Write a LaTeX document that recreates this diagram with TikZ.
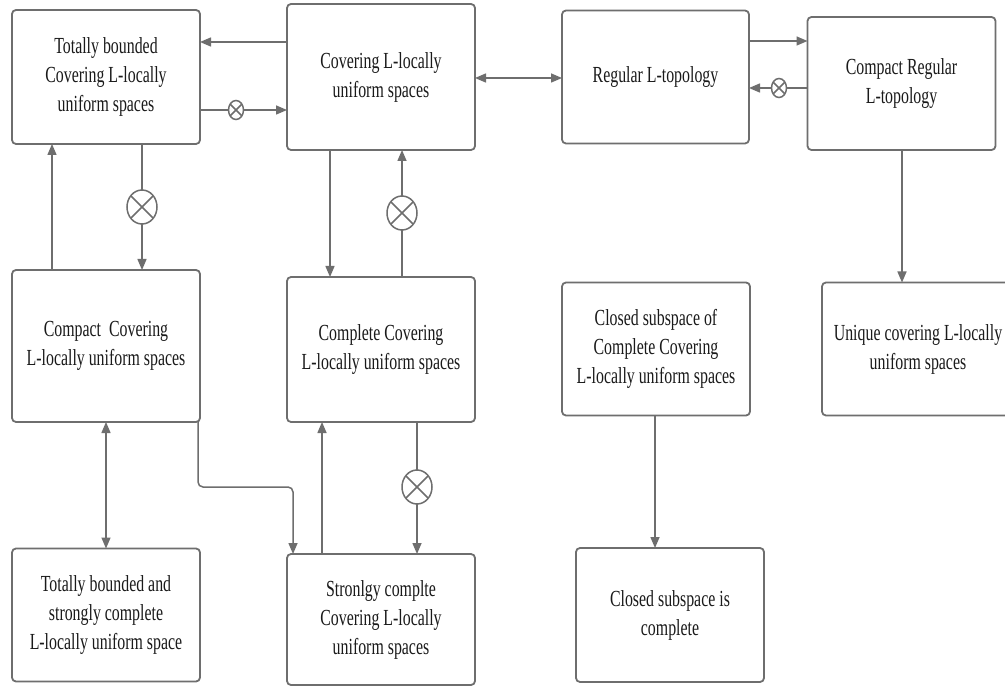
\documentclass[tikz,border=0pt]{standalone}
\usepackage{fontspec}
\setmainfont{Liberation Serif}[FakeStretch=0.69]
\usetikzlibrary{arrows.meta,shapes.geometric}
\definecolor{linegray}{HTML}{6E6E6E}
\definecolor{textdark}{HTML}{1A1A1A}
\begin{document}
\begin{tikzpicture}[x=1pt,y=-1pt,
  box/.style={draw=linegray, line width=1.8pt, rounded corners=4pt, align=center,
    inner sep=0pt, outer sep=0pt, text=textdark, minimum width=188pt,
    font=\fontsize{23}{29}\selectfont},
  conn/.style={draw=linegray, line width=1.5pt},
  arr/.style={conn, -{Triangle[length=11pt,width=9pt]}},
  darr/.style={conn, {Triangle[length=11pt,width=9pt]}-{Triangle[length=11pt,width=9pt]}},
  smallx/.style={ellipse, draw=linegray, line width=1.5pt, minimum width=15pt, minimum height=19pt, inner sep=0pt, outer sep=0pt},
  bigx/.style={ellipse, draw=linegray, line width=1.5pt, minimum width=30pt, minimum height=34pt, inner sep=0pt, outer sep=0pt}
]
\useasboundingbox (0,0) rectangle (1005,687);
\fill[white] (0,0) rectangle (1005,687);

% boxes
\node[box, minimum height=134pt] (a) at (106,77) {Totally bounded\\Covering L-locally\\uniform spaces};
\node[box, minimum height=146pt] (b) at (381,77) {Covering L-locally\\uniform spaces};
\node[box, minimum width=187pt, minimum height=133pt] (c) at (655.5,77) {Regular L-topology};
\node[box, minimum height=133pt] (d) at (901.5,83.5) {Compact Regular\\L-topology};
\node[box, minimum height=152pt] (e) at (106,346) {Compact\ \ Covering\\L-locally uniform spaces};
\node[box, minimum height=145pt] (f) at (381,349.5) {Complete Covering\\L-locally uniform spaces};
\node[box, minimum height=133pt] (g) at (656,349) {Closed subspace of\\Complete Covering\\L-locally uniform spaces};
\node[box, minimum width=192pt, minimum height=133pt] (h) at (918,349) {Unique covering L-locally\\uniform spaces};
\node[box, minimum height=133pt] (i) at (106,615) {Totally bounded and\\strongly complete\\L-locally uniform space};
\node[box, minimum height=131pt] (j) at (381,619.5) {Stronlgy complte\\Covering L-locally\\uniform spaces};
\node[box, minimum height=134pt] (k) at (670,615) {Closed subspace is\\complete};

% helper levels
\coordinate (y42) at (0,42);
\coordinate (y110) at (0,110);
\coordinate (y78) at (0,78);
\coordinate (y41) at (0,41);
\coordinate (y88) at (0,88);
\coordinate (x902) at (902,0);
\coordinate (x142) at (142,0);
\coordinate (x52) at (52,0);
\coordinate (x330) at (330,0);
\coordinate (x402) at (402,0);
\coordinate (x106) at (106,0);
\coordinate (x198) at (198,0);
\coordinate (x293) at (293,0);
\coordinate (x322) at (322,0);
\coordinate (x417) at (417,0);
\coordinate (x655) at (655,0);
\coordinate (bend1) at (198,487);
\coordinate (bend2) at (293,487);

% otimes nodes
\node[smallx] (o1) at (236,110) {};
\node[smallx] (o2) at (779,88) {};
\node[bigx] (o3) at (142,207) {};
\node[bigx] (o4) at (402,213) {};
\node[bigx] (o5) at (417,487) {};
\foreach \o in {o1,o2,o3,o4,o5}{
  \draw[linegray, line width=1.5pt] (\o.45) -- (\o.225) (\o.135) -- (\o.315);
}

% connectors
\draw[arr] (b.west |- y42) -- (a.east |- y42);
\draw[conn] (a.east |- y110) -- (o1);
\draw[arr] (o1) -- (b.west |- y110);
\draw[darr] (b.east |- y78) -- (c.west |- y78);
\draw[arr] (c.east |- y41) -- (d.west |- y41);
\draw[conn] (d.west |- y88) -- (o2);
\draw[arr] (o2) -- (c.east |- y88);
\draw[arr] (d.south -| x902) -- (h.north -| x902);
\draw[conn] (a.south -| x142) -- (o3);
\draw[arr] (o3) -- (e.north -| x142);
\draw[arr] (e.north -| x52) -- (a.south -| x52);
\draw[arr] (b.south -| x330) -- (f.north -| x330);
\draw[conn] (f.north -| x402) -- (o4);
\draw[arr] (o4) -- (b.south -| x402);
\draw[darr] (e.south -| x106) -- (i.north -| x106);
\draw[arr, rounded corners=5pt] (e.south -| x198) -- (bend1) -- (bend2) -- (j.north -| x293);
\draw[arr] (j.north -| x322) -- (f.south -| x322);
\draw[conn] (f.south -| x417) -- (o5);
\draw[arr] (o5) -- (j.north -| x417);
\draw[arr] (g.south -| x655) -- (k.north -| x655);
\end{tikzpicture}
\end{document}
